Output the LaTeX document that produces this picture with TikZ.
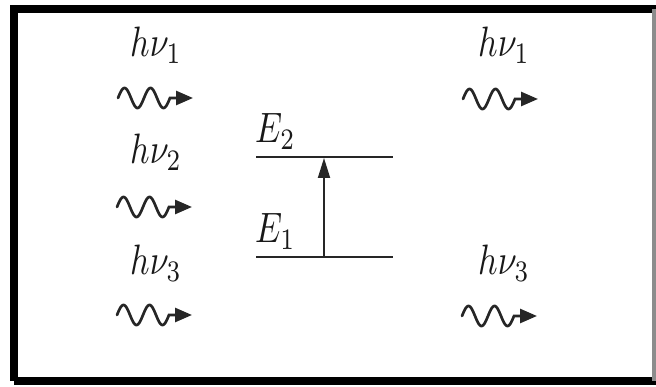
\documentclass[tikz,border=0pt]{standalone}
\usetikzlibrary{arrows.meta}
\tikzset{
  lbl/.style={anchor=base west, inner sep=0pt, text=black!90},
  wv/.style={draw=black!85, line width=2.7pt, line cap=round,
    -{Triangle[length=17pt,width=14pt]}},
  level/.style={draw=black!85, line width=2.6pt},
  trans/.style={draw=black!85, line width=1.8pt, -{Triangle[length=20pt,width=12pt]}},
  frame/.style={line width=8pt}
}
\newcommand{\tallmath}[1]{\scalebox{3.4}[4.25]{$#1$}}
\newcommand{\photon}[1]{%
  \begin{scope}[shift={(#1)}]
    \draw[wv] plot[domain=0:52,samples=80,smooth] (\x,{-10*sin(\x/26*360)}) -- (75,0);
  \end{scope}}
\begin{document}
\begin{tikzpicture}[x=1pt,y=-1pt]
\useasboundingbox (0,0) rectangle (656,387);
\fill[white] (0,0) rectangle (656,387);
% frame
\draw[frame] (14,381) -- (14,9) -- (660,9);
\draw[frame] (14,381) -- (660,381);
\draw[frame, black!45] (656,9) -- (656,381);
% labels left
\node[lbl] (l1) at (130,57) {\tallmath{h\nu_1}};
\node[lbl] (l2) at (130,164) {\tallmath{h\nu_2}};
\node[lbl] (l3) at (130,275) {\tallmath{h\nu_3}};
% labels right
\node[lbl] (r1) at (478,57) {\tallmath{h\nu_1}};
\node[lbl] (r3) at (478,275) {\tallmath{h\nu_3}};
% photons
\coordinate (w1s) at (118,98);
\coordinate (w2s) at (117,207);
\coordinate (w3s) at (117,315);
\coordinate (v1s) at (463,99);
\coordinate (v3s) at (462,316);
\photon{w1s}
\photon{w2s}
\photon{w3s}
\photon{v1s}
\photon{v3s}
% levels
\coordinate (e2a) at (256,157); \coordinate (e2b) at (393,157);
\coordinate (e1a) at (256,257); \coordinate (e1b) at (393,257);
\draw[level] (e2a) -- (e2b);
\draw[level] (e1a) -- (e1b);
\node[lbl] (E2) at (255,143) {\tallmath{E_2}};
\node[lbl] (E1) at (255,243) {\tallmath{E_1}};
% transition
\coordinate (t1) at (324,257); \coordinate (t2) at (324,158);
\draw[trans] (t1) -- (t2);
\end{tikzpicture}
\end{document}
